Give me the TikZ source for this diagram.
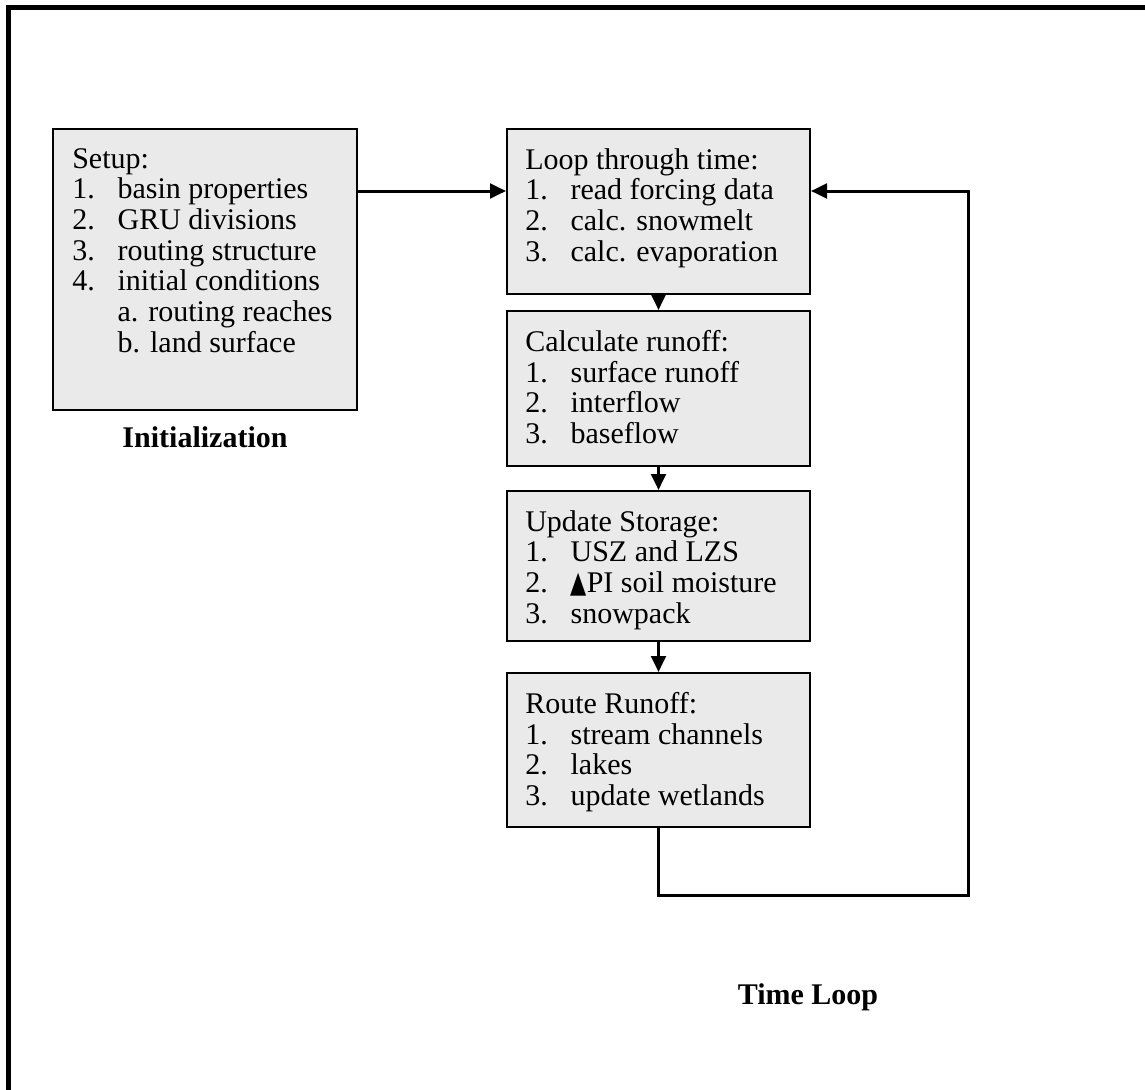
\documentclass[tikz,border=0pt]{standalone}
\usepackage{fontspec}
\setmainfont{Liberation Serif}
\newfontfamily\symfont{DejaVu Sans}
\usetikzlibrary{arrows.meta}
\newcommand{\numline}[2]{\makebox[34pt][l]{#1}#2}
\newcommand{\subline}[1]{\hspace*{34pt}#1}
\begin{document}
\begin{tikzpicture}[x=0.75pt,y=-0.75pt,
  stepbox/.style={draw=black, line width=1.5pt, fill=boxgray, inner sep=0pt, anchor=north west},
  steptext/.style={anchor=north west, inner sep=0pt, align=left,
    font=\fontsize{22.5pt}{23pt}\selectfont},
  conn/.style={line width=2.25pt, -{Triangle[length=12pt,width=11pt]}},
  caption/.style={font=\fontsize{22.5pt}{23pt}\selectfont\bfseries, inner sep=0pt}]
\definecolor{boxgray}{HTML}{EAEAEA}
\useasboundingbox (0,0) rectangle (1145,1089);
\fill[white] (0,0) rectangle (1145,1089);

% frame along the top and left edges
\draw[line width=3.75pt] (8.5,1095) -- (8.5,7.5) -- (1150,7.5);

% initialization block
\node[stepbox, minimum width=304*0.75pt, minimum height=281*0.75pt] (setup) at (52,128) {};
\node[steptext] (setuptext) at (72,148) {Setup:\\
\numline{1.}{basin properties}\\
\numline{2.}{GRU divisions}\\
\numline{3.}{routing structure}\\
\numline{4.}{initial conditions}\\
\subline{a. routing reaches}\\
\subline{b. land surface}};
\node[caption] (init) at (205,437) {Initialization};

% time loop blocks
\node[stepbox, minimum width=303*0.75pt, minimum height=165*0.75pt] (loop) at (506,128) {};
\node[steptext] (looptext) at (525,148) {Loop through time:\\
\numline{1.}{read forcing data}\\
\numline{2.}{calc. snowmelt}\\
\numline{3.}{calc. evaporation}};

\node[stepbox, minimum width=303*0.75pt, minimum height=155*0.75pt] (runoff) at (506,310) {};
\node[steptext] (runofftext) at (525,330) {Calculate runoff:\\
\numline{1.}{surface runoff}\\
\numline{2.}{interflow}\\
\numline{3.}{baseflow}};

\node[stepbox, minimum width=303*0.75pt, minimum height=150*0.75pt] (storage) at (506,490) {};
\node[steptext] (storagetext) at (525,510) {Update Storage:\\
\numline{1.}{USZ and LZS}\\
\numline{2.}{{\symfont\scalebox{0.7}[1.0]{▲}}PI soil moisture}\\
\numline{3.}{snowpack}};

\node[stepbox, minimum width=303*0.75pt, minimum height=154*0.75pt] (route) at (506,672) {};
\node[steptext] (routetext) at (525,692) {Route Runoff:\\
\numline{1.}{stream channels}\\
\numline{2.}{lakes}\\
\numline{3.}{update wetlands}};

\node[caption] (timeloop) at (808,997) {Time Loop};

% connectors
\coordinate (feed) at (0,191);
\coordinate (loopbottom) at (968,895);
\coordinate (loopup) at (968,191);
\draw[conn] (setup.east |- feed) -- (loop.west |- feed);
\draw[conn] (loop.south) -- (runoff.north);
\draw[conn] (runoff.south) -- (storage.north);
\draw[conn] (storage.south) -- (route.north);
\draw[conn] (route.south) |- (loopbottom) -- (loopup) -- (loop.east |- loopup);
\end{tikzpicture}
\end{document}
